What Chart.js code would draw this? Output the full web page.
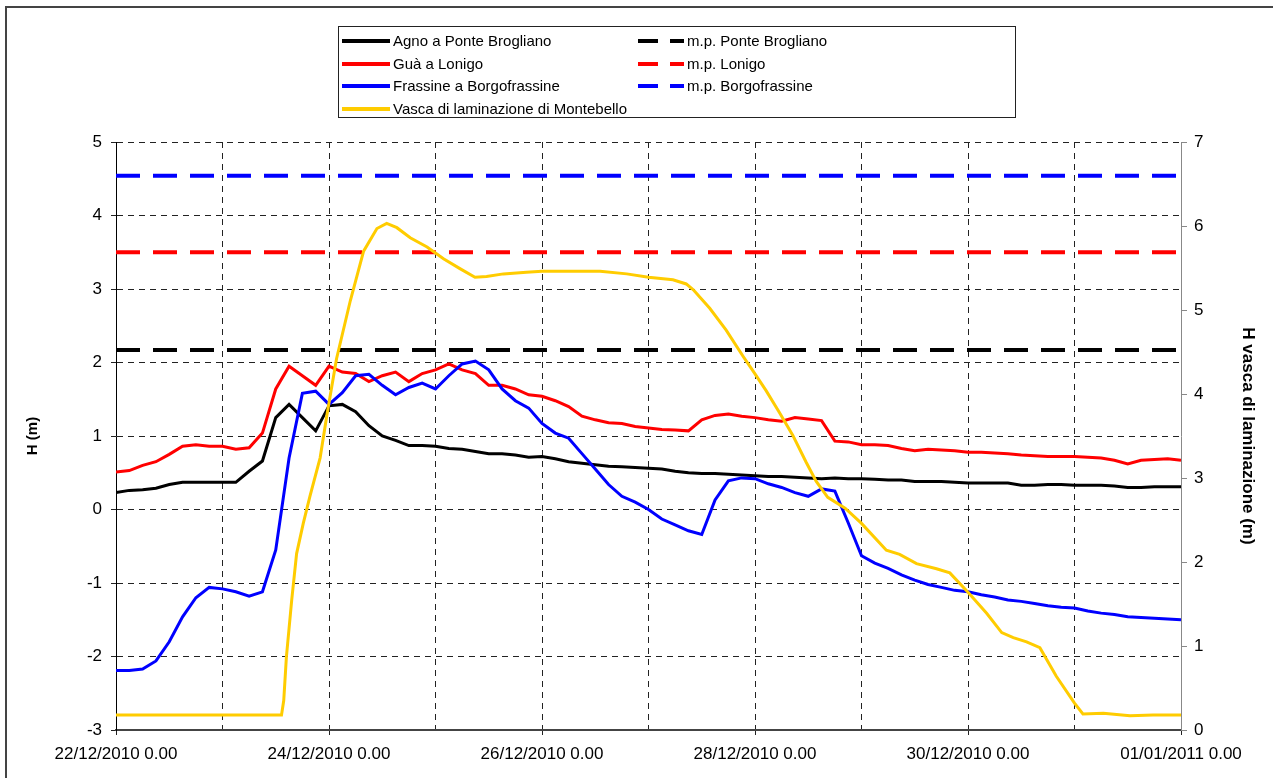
<!DOCTYPE html>
<html>
<head>
<meta charset="utf-8">
<title>Livelli idrometrici 22/12/2010 - 01/01/2011</title>
<script src="https://cdn.jsdelivr.net/npm/chart.js@4.4.1/dist/chart.umd.min.js"></script>
<style>
  body { margin: 0; background: #fff; font-family: "Liberation Sans", Arial, sans-serif; }
  #wrap { position: relative; width: 1273px; height: 778px; overflow: hidden; }
  #frame { position: absolute; left: 5px; top: 6px; width: 1400px; height: 900px; border: 2px solid #444; }
  #legend { position: absolute; left: 338px; top: 26px; width: 676px; height: 90px; border: 1px solid #222; background: #fff; font-size: 15px; color: #000; }
  .item { position: absolute; height: 20px; line-height: 20px; white-space: nowrap; }
  .swatch { position: absolute; top: 8px; height: 4px; }
  .txt { position: absolute; top: 0; }
</style>
</head>
<body>
<div id="wrap">
  <div id="frame"></div>
  <canvas id="grafico" width="1273" height="778"></canvas>
  <div id="legend"></div>
</div>
<script>
// ore dall'inizio (22/12/2010 0.00), passo 3 ore
const hours = [0, 3, 6, 9, 12, 15, 18, 21, 24, 27, 30, 33, 36, 39, 42, 45, 48, 51, 54, 57,
  60, 63, 66, 69, 72, 75, 78, 81, 84, 87, 90, 93, 96, 99, 102, 105, 108, 111, 114, 117,
  120, 123, 126, 129, 132, 135, 138, 141, 144, 147, 150, 153, 156, 159, 162, 165, 168, 171, 174, 177,
  180, 183, 186, 189, 192, 195, 198, 201, 204, 207, 210, 213, 216, 219, 222, 225, 228, 231, 234, 237, 240]

const agnoPonteBrogliano = [0.23, 0.26, 0.27, 0.29, 0.34, 0.37, 0.37, 0.37, 0.37, 0.37, 0.52, 0.66, 1.25, 1.43, 1.25, 1.07,
  1.41, 1.43, 1.33, 1.14, 1.00, 0.94, 0.87, 0.87, 0.86, 0.83, 0.82, 0.79, 0.76, 0.76, 0.74, 0.71,
  0.72, 0.69, 0.65, 0.63, 0.61, 0.59, 0.58, 0.57, 0.56, 0.55, 0.52, 0.50, 0.49, 0.49, 0.48, 0.47,
  0.46, 0.45, 0.45, 0.44, 0.43, 0.42, 0.43, 0.42, 0.42, 0.41, 0.40, 0.40, 0.38, 0.38, 0.38, 0.37,
  0.36, 0.36, 0.36, 0.36, 0.33, 0.33, 0.34, 0.34, 0.33, 0.33, 0.33, 0.32, 0.30, 0.30, 0.31, 0.31, 0.31]

const guaLonigo = [0.51, 0.53, 0.60, 0.65, 0.75, 0.86, 0.88, 0.86, 0.86, 0.82, 0.84, 1.04, 1.64, 1.95, 1.82, 1.69,
  1.95, 1.87, 1.85, 1.74, 1.82, 1.87, 1.74, 1.85, 1.90, 1.98, 1.90, 1.85, 1.69, 1.69, 1.64, 1.56,
  1.54, 1.48, 1.40, 1.27, 1.22, 1.18, 1.17, 1.13, 1.11, 1.09, 1.08, 1.07, 1.22, 1.28, 1.30, 1.27,
  1.25, 1.22, 1.20, 1.25, 1.23, 1.21, 0.93, 0.92, 0.88, 0.88, 0.87, 0.83, 0.80, 0.82, 0.81, 0.80,
  0.78, 0.78, 0.77, 0.76, 0.74, 0.73, 0.72, 0.72, 0.72, 0.71, 0.70, 0.67, 0.62, 0.67, 0.68, 0.69, 0.67]

const frassineBorgofrassine = [-2.19, -2.19, -2.17, -2.06, -1.80, -1.46, -1.20, -1.06, -1.08, -1.12, -1.18, -1.12, -0.55, 0.70, 1.58, 1.61,
  1.43, 1.59, 1.82, 1.84, 1.69, 1.56, 1.66, 1.72, 1.64, 1.82, 1.98, 2.02, 1.90, 1.64, 1.48, 1.38,
  1.17, 1.04, 0.97, 0.76, 0.55, 0.34, 0.18, 0.10, 0.00, -0.13, -0.21, -0.29, -0.34, 0.13, 0.39, 0.43,
  0.42, 0.35, 0.30, 0.23, 0.18, 0.28, 0.25, -0.18, -0.63, -0.73, -0.80, -0.89, -0.96, -1.02, -1.06, -1.10,
  -1.12, -1.16, -1.19, -1.23, -1.25, -1.28, -1.31, -1.33, -1.34, -1.38, -1.41, -1.43, -1.46, -1.47, -1.48, -1.49, -1.50]

// vasca di laminazione (asse destro)
const vascaHours = [0, 37.3, 37.8, 38.4, 39.6, 40.7, 42.2, 43.7, 46.0, 47.5, 49.7, 52.8, 55.8, 58.8, 61.0, 63.3,
  66.3, 70.1, 73.8, 77.6, 80.9, 83.5, 87.3, 92.5, 96, 109.1, 115.1, 120, 125.5, 128.5, 130.1, 133.8,
  137.5, 141.3, 144, 146.5, 149.5, 152.5, 155.5, 157.8, 160.4, 164.3, 168, 173.6, 176.6, 180.4, 184.9,
  187.9, 192, 196.2, 199.6, 202.2, 205.2, 208.2, 211.9, 216, 217.9, 222.5, 228.5, 233.7, 240]
const vascaMontebello = [0.18, 0.18, 0.35, 0.87, 1.55, 2.10, 2.46, 2.78, 3.24, 3.74, 4.42, 5.11, 5.70, 5.97, 6.03, 5.98,
  5.86, 5.75, 5.61, 5.49, 5.39, 5.40, 5.43, 5.45, 5.46, 5.46, 5.43, 5.39, 5.36, 5.31, 5.24, 5.02,
  4.76, 4.45, 4.24, 4.04, 3.78, 3.51, 3.19, 2.96, 2.77, 2.64, 2.46, 2.14, 2.09, 1.98, 1.92,
  1.87, 1.64, 1.39, 1.16, 1.10, 1.05, 0.98, 0.64, 0.32, 0.19, 0.20, 0.17, 0.18, 0.18]

// massima piena (soglie)
const mpHours = [0, 240]
const mpPonteBrogliano = 2.17
const mpLonigo = 3.50
const mpBorgofrassine = 4.54

const xTickLabels = ['22/12/2010 0.00', '24/12/2010 0.00', '26/12/2010 0.00', '28/12/2010 0.00', '30/12/2010 0.00', '01/01/2011 0.00']

const seriesNames = ['Agno a Ponte Brogliano', 'Guà a Lonigo', 'Frassine a Borgofrassine', 'Vasca di laminazione di Montebello']
const mpNames = ['m.p. Ponte Brogliano', 'm.p. Lonigo', 'm.p. Borgofrassine']
const colors = ['#000000', '#ff0000', '#0000ff', '#ffcc00']

const toPoints = (xs, ys) => xs.map((x, i) => ({ x: x, y: ys[i] }))
const flat = (v) => mpHours.map(h => ({ x: h, y: v }))

const FONT = '"Liberation Sans", Arial, sans-serif'
Chart.defaults.font.family = FONT
Chart.defaults.color = '#000'

const lineDs = (label, data, color, order, axis) => ({
  label: label,
  data: data,
  borderColor: color,
  borderWidth: 3,
  pointRadius: 0,
  tension: 0,
  fill: false,
  order: order,
  yAxisID: axis || 'y'
})

const mpDs = (label, v, color, order) => ({
  label: label,
  data: flat(v),
  borderColor: color,
  borderWidth: 4,
  borderDash: [24, 13],
  borderCapStyle: 'butt',
  pointRadius: 0,
  fill: false,
  order: order,
  yAxisID: 'y'
})

var ctx = document.getElementById('grafico').getContext('2d')

var myChart = new Chart(ctx, {
  type: 'line',
  data: {
    datasets: [
      lineDs(seriesNames[3], toPoints(vascaHours, vascaMontebello), colors[3], 0, 'y2'),
      lineDs(seriesNames[2], toPoints(hours, frassineBorgofrassine), colors[2], 1),
      lineDs(seriesNames[1], toPoints(hours, guaLonigo), colors[1], 2),
      lineDs(seriesNames[0], toPoints(hours, agnoPonteBrogliano), colors[0], 3),
      mpDs(mpNames[0], mpPonteBrogliano, colors[0], 4),
      mpDs(mpNames[1], mpLonigo, colors[1], 5),
      mpDs(mpNames[2], mpBorgofrassine, colors[2], 6)
    ]
  },
  options: {
    responsive: false,
    animation: false,
    devicePixelRatio: 1,
    layout: { padding: { top: 142, left: 0, right: 0, bottom: 0 } },
    plugins: { legend: { display: false }, tooltip: { enabled: false } },
    scales: {
      x: {
        type: 'linear',
        min: 0,
        max: 240,
        afterFit: s => { s.height = 48 },
        ticks: {
          stepSize: 24,
          autoSkip: false,
          maxRotation: 0,
          minRotation: 0,
          padding: 9,
          font: { size: 17 },
          color: '#000',
          callback: v => (v % 48 === 0 ? xTickLabels[v / 48] : '')
        },
        grid: {
          color: '#222',
          lineWidth: 1,
          tickLength: 5,
          tickBorderDash: [],
          tickColor: c => (c.tick && c.tick.value % 48 === 0 ? '#222' : 'rgba(0,0,0,0)')
        },
        border: { color: '#444', width: 2, dash: [6, 5] }
      },
      y: {
        position: 'left',
        min: -3,
        max: 5,
        afterFit: s => { s.width = 116 },
        ticks: { stepSize: 1, padding: 9, font: { size: 17 }, color: '#000' },
        grid: { color: '#222', lineWidth: 1, tickLength: 5, tickBorderDash: [], tickColor: '#222' },
        border: { color: '#000', width: 1, dash: [6, 5] },
        title: { display: true, text: 'H (m)', font: { size: 15, weight: 'bold' }, color: '#000', padding: { top: 24 } }
      },
      y2: {
        position: 'right',
        min: 0,
        max: 7,
        afterFit: s => { s.width = 92 },
        ticks: { stepSize: 1, padding: 7, font: { size: 17 }, color: '#000' },
        grid: { drawOnChartArea: false, color: '#888', tickLength: 6 },
        border: { color: '#888', width: 1 },
        title: { display: true, text: 'H vasca di laminazione (m)', font: { size: 17, weight: 'bold' }, color: '#000', padding: { top: 15 } }
      }
    }
  }
})

// legenda a due colonne come nell'originale
function renderLegend() {
  const box = document.getElementById('legend')
  const rowsY = [4, 26.5, 49, 71.5]
  seriesNames.forEach((name, i) => {
    const item = document.createElement('div')
    item.className = 'item'
    item.style.left = '3px'
    item.style.top = rowsY[i] + 'px'
    item.innerHTML = `<span class="swatch" style="left:0;width:48px;background:${colors[i]}"></span><span class="txt" style="left:51px">${name}</span>`
    box.appendChild(item)
  })
  mpNames.forEach((name, i) => {
    const item = document.createElement('div')
    item.className = 'item'
    item.style.left = '299px'
    item.style.top = rowsY[i] + 'px'
    item.innerHTML = `<span class="swatch" style="left:0;width:20px;background:${colors[i]}"></span>` +
      `<span class="swatch" style="left:32px;width:14px;background:${colors[i]}"></span>` +
      `<span class="txt" style="left:49px">${name}</span>`
    box.appendChild(item)
  })
}

renderLegend()
</script>
</body>
</html>
